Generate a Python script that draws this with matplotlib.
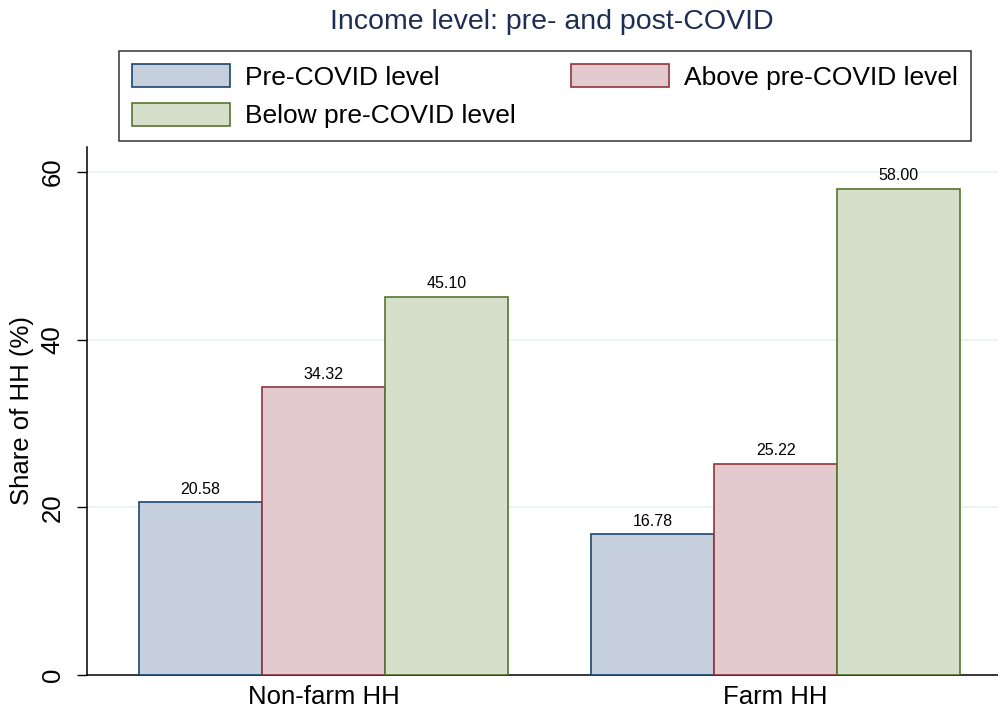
import matplotlib
matplotlib.use('Agg')
from matplotlib import pyplot as plt
import numpy as np

plt.rcParams['font.family'] = ['Liberation Sans', 'DejaVu Sans']

groups = ['Non-farm HH', 'Farm HH']
series = ['Pre-COVID level', 'Above pre-COVID level', 'Below pre-COVID level']
pre_covid = [20.58, 16.78]
above_pre = [34.32, 25.22]
below_pre = [45.10, 58.00]

fills = ['#c6d0dc', '#e3cacf', '#d6dfca']
edges = ['#1a476f', '#90353b', '#55752f']

fig = plt.figure(figsize=(9.98, 7.13), dpi=100)
ax = fig.add_axes([0.0872, 0.0533, 0.9128, 0.7407])

x = np.arange(len(groups))
w = 0.272
bars = []
for i, vals in enumerate([pre_covid, above_pre, below_pre]):
    b = ax.bar(x + (i - 1) * w, vals, width=w, color=fills[i], edgecolor=edges[i],
               linewidth=1.2, label=series[i], zorder=3)
    ax.bar_label(b, labels=['%.2f' % v for v in vals], padding=4, fontsize=11.5)
    bars.append(b)

ax.set_xlim(-0.523, 1.492)
ax.set_ylim(0, 63)
ax.set_yticks([0, 20, 40, 60])
ax.set_yticklabels(['0', '20', '40', '60'], rotation=90, va='center', fontsize=18.5)
ax.set_xticks(x)
ax.set_xticklabels(groups, fontsize=18.5)
ax.tick_params(axis='x', length=0, pad=7)
ax.tick_params(axis='y', length=7, width=1, pad=9)
for yv in [20, 40, 60]:
    ax.axhline(yv, color='#eaf2f3', linewidth=1.3, zorder=1)
ax.spines['top'].set_visible(False)
ax.spines['right'].set_visible(False)
ax.spines['left'].set_linewidth(1.1)
ax.spines['bottom'].set_linewidth(1.1)
ax.set_ylabel('Share of HH (%)', fontsize=18.5, labelpad=5)

fig.text(0.553, 0.969, 'Income level: pre- and post-COVID', ha='center', va='center',
         fontsize=20.5, color='#1e2d53')

handles = [bars[0], bars[2], bars[1]]
labels = [series[0], series[2], series[1]]
leg = fig.legend(handles, labels, ncol=2, loc='upper left',
                 bbox_to_anchor=(119 / 998, 1 - 51 / 713),
                 fancybox=False, edgecolor='black', fontsize=19,
                 handlelength=3.71, handleheight=0.95, handletextpad=0.57,
                 labelspacing=0.5, borderaxespad=0, borderpad=0.5, columnspacing=2.1)
leg.get_frame().set_linewidth(1.1)

plt.savefig('out.png', dpi=100)
